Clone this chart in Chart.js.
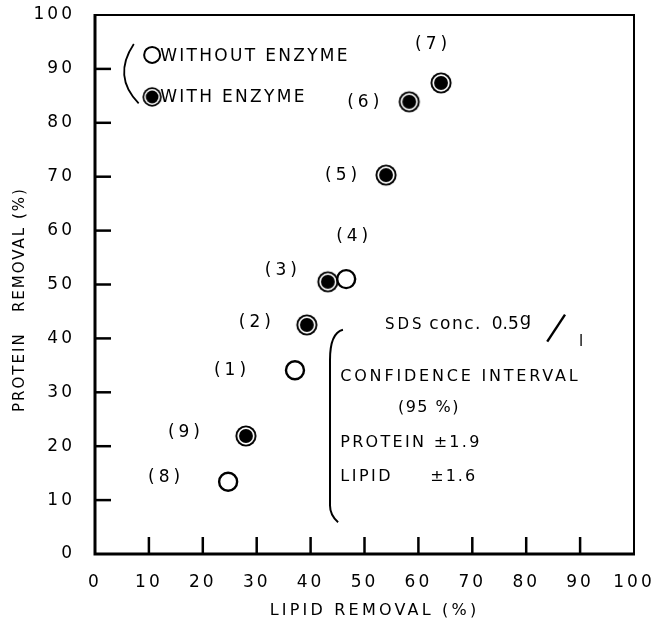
<!DOCTYPE html>
<html><head><meta charset="utf-8">
<script src="https://cdn.jsdelivr.net/npm/chart.js@4.4.0/dist/chart.umd.min.js"></script>
<style>html,body{margin:0;padding:0;background:#fff}#wrap{width:655px;height:625px}</style>
</head><body><div id="wrap"><canvas id="c" width="655" height="625"></canvas></div>
<script>
// ---- data ----
const pointLabels    = ['(1)','(2)','(3)','(4)','(5)','(6)','(7)','(8)','(9)'];
const lipidRemoval   = [37.1, 39.3, 43.2, 46.6, 54.0, 58.3, 64.2, 24.7, 28.0];
const proteinRemoval = [34.1, 42.5, 50.5, 51.0, 70.3, 83.9, 87.4, 13.4, 21.9];
const withEnzyme     = [false, true, true, false, true, true, true, false, true];
const seriesNames    = ['WITHOUT ENZYME', 'WITH ENZYME'];
const xTickValues    = [0,10,20,30,40,50,60,70,80,90,100];
const xTickLabels    = ['0','10','20','30','40','50','60','70','80','90','100'];
const yTickValues    = [0,10,20,30,40,50,60,70,80,90,100];
const yTickLabels    = ['0','10','20','30','40','50','60','70','80','90','100'];
const xTitle = 'LIPID REMOVAL (%)';
const yTitle = 'PROTEIN   REMOVAL (%)';
const noteLines = ['CONFIDENCE INTERVAL', '(95 %)', 'PROTEIN \u00B11.9', 'LIPID', '\u00B11.6'];

// ---- styling / layout (not data) ----
const FONT = '"DejaVu Sans", sans-serif';
const labelOffsets = [[-63,0],[-50,-2],[-45,-11],[8,-43],[-43,0],[-44,1],[-8,-38],[-62,-4],[-60,-3]];

function makeFilledMarker(size){
  const c = document.createElement('canvas');
  c.width = size; c.height = size;
  const g = c.getContext('2d');
  const m = size/2;
  g.fillStyle='#000'; g.beginPath(); g.arc(m,m,size*0.44,0,Math.PI*2); g.fill();
  g.fillStyle='#fff'; g.beginPath(); g.arc(m,m,size*0.36,0,Math.PI*2); g.fill();
  g.fillStyle='#000'; g.beginPath(); g.arc(m,m,size*0.29,0,Math.PI*2); g.fill();
  return c;
}
const filledMarker = makeFilledMarker(24);
const filledMarkerSmall = makeFilledMarker(22);

function pts(flag){
  const out=[];
  for(let i=0;i<lipidRemoval.length;i++) if(withEnzyme[i]===flag) out.push({x:lipidRemoval[i], y:proteinRemoval[i], idx:i});
  return out;
}

function txt(ctx, s, x, y, size, spacing, align, base){
  ctx.save();
  ctx.font = size+'px '+FONT;
  ctx.letterSpacing = spacing+'px';
  ctx.fillStyle='#000';
  ctx.textAlign = align||'left';
  ctx.textBaseline = base||'middle';
  ctx.fillText(s, x, y);
  ctx.restore();
}

const decor = {
  id:'decor',
  beforeDraw(chart){ chart.ctx.letterSpacing='3px'; },
  afterDraw(chart){
    const ctx = chart.ctx;
    const xs = chart.scales.x, ys = chart.scales.y;
    const P = (a,b)=>[xs.getPixelForValue(a), ys.getPixelForValue(b)];
    const L = xs.getPixelForValue(0), R = xs.getPixelForValue(100);
    const B = ys.getPixelForValue(0), T = ys.getPixelForValue(100);
    ctx.save();
    ctx.letterSpacing='0px';
    ctx.strokeStyle='#000'; ctx.lineCap='butt';
    // frame
    ctx.lineWidth=3;
    ctx.beginPath(); ctx.moveTo(L,T-1); ctx.lineTo(L,B); ctx.lineTo(R+1,B); ctx.stroke();
    ctx.lineWidth=2;
    ctx.beginPath(); ctx.moveTo(L,T); ctx.lineTo(R,T); ctx.lineTo(R,B); ctx.stroke();
    // inward ticks
    ctx.lineWidth=2.5;
    yTickValues.forEach(v=>{ if(v>0&&v<100){ const y=ys.getPixelForValue(v); ctx.beginPath(); ctx.moveTo(L,y); ctx.lineTo(L+16,y); ctx.stroke(); }});
    xTickValues.forEach(v=>{ if(v>0&&v<100){ const x=xs.getPixelForValue(v); ctx.beginPath(); ctx.moveTo(x,B); ctx.lineTo(x,B-17); ctx.stroke(); }});

    // point labels
    chart.data.datasets.forEach((ds,di)=>{
      chart.getDatasetMeta(di).data.forEach((el,j)=>{
        const i = ds.data[j].idx;
        const o = labelOffsets[i];
        txt(ctx, pointLabels[i], el.x+o[0], el.y+o[1], 17, 4, 'center');
      });
    });

    // legend
    ctx.lineWidth=2;
    let [lx,ly] = P(10.6, 92.6);
    ctx.beginPath(); ctx.arc(lx,ly,8,0,Math.PI*2); ctx.fillStyle='#fff'; ctx.fill(); ctx.stroke();
    txt(ctx, seriesNames[0], lx+8, ly+2, 17, 2.3, 'left');
    let [fx,fy] = P(10.6, 84.8);
    ctx.drawImage(filledMarkerSmall, fx-11, fy-11);
    txt(ctx, seriesNames[1], fx+8, fy+1, 17, 2.3, 'left');
    // small bracket
    ctx.lineWidth=1.8;
    let a=P(7.2,94.6), c=P(3.2,88.6), b=P(8.1,83.6);
    ctx.beginPath(); ctx.moveTo(a[0],a[1]); ctx.quadraticCurveTo(c[0],c[1],b[0],b[1]); ctx.stroke();

    // big bracket
    ctx.lineWidth=2;
    const b1=P(46.0,41.6), b2=P(43.6,41.0), b3=P(43.6,36.0), b4=P(43.6,9.0), b5=P(43.6,7.2), b6=P(45.1,5.9);
    ctx.beginPath(); ctx.moveTo(b1[0],b1[1]); ctx.quadraticCurveTo(b2[0],b2[1],b3[0],b3[1]);
    ctx.lineTo(b4[0],b4[1]); ctx.quadraticCurveTo(b5[0],b5[1],b6[0],b6[1]); ctx.stroke();

    // SDS note
    let p=P(53.8,42.5); txt(ctx,'SDS',p[0],p[1],15,3,'left');
    p=P(62.0,42.5); txt(ctx,'conc.',p[0],p[1],17,1.5,'left');
    p=P(73.6,42.5); txt(ctx,'0.5',p[0],p[1],17,0,'left');
    p=P(78.8,43.4); txt(ctx,'g',p[0],p[1],18,0,'left');
    const s1=P(83.9,39.4), s2=P(87.2,44.4);
    ctx.lineWidth=2.4; ctx.beginPath(); ctx.moveTo(s1[0],s1[1]); ctx.lineTo(s2[0],s2[1]); ctx.stroke();
    p=P(89.8,39.4); txt(ctx,'l',p[0],p[1],15,0,'left');

    p=P(45.5,32.8); txt(ctx,noteLines[0],p[0],p[1],16,2.8,'left');
    p=P(56.2,27.1); txt(ctx,noteLines[1],p[0],p[1],16,1.5,'left');
    p=P(45.5,20.6); txt(ctx,noteLines[2],p[0],p[1],16,2.3,'left');
    p=P(45.5,14.3); txt(ctx,noteLines[3],p[0],p[1],16,2.5,'left');
    p=P(62.2,14.3); txt(ctx,noteLines[4],p[0],p[1],16,2,'left');

    // axis titles
    txt(ctx, xTitle, (L+R)/2+10, 611, 16, 3.2, 'center');
    ctx.save();
    ctx.translate(20, (T+B)/2+15);
    ctx.rotate(-Math.PI/2);
    txt(ctx, yTitle, 0, 0, 15, 2, 'center');
    ctx.restore();
    ctx.restore();
  }
};

new Chart(document.getElementById('c'), {
  type:'scatter',
  data:{ datasets:[
    { label:seriesNames[0], data:pts(false), pointStyle:'circle', pointRadius:9, pointHoverRadius:9,
      borderColor:'#000', backgroundColor:'#fff', borderWidth:2.4 },
    { label:seriesNames[1], data:pts(true), pointStyle:filledMarker, pointRadius:12, pointHoverRadius:12,
      borderColor:'#000', backgroundColor:'#000' }
  ]},
  options:{
    responsive:false, animation:false, devicePixelRatio:1,
    layout:{ padding:{ top:15, right:21, left:0, bottom:0 } },
    plugins:{ legend:{display:false}, tooltip:{enabled:false} },
    scales:{
      x:{ type:'linear', min:0, max:100,
          afterBuildTicks(s){ s.ticks = xTickValues.map(v=>({value:v})); },
          afterFit(s){ s.height = 71; s.paddingLeft = 0; s.paddingRight = 0; },
          grid:{ display:false, drawTicks:false }, border:{ display:false },
          ticks:{ padding:18, color:'#000', font:{ family:FONT, size:17 }, maxRotation:0, autoSkip:false,
                  callback:(v)=> xTickLabels[xTickValues.indexOf(v)] } },
      y:{ type:'linear', min:0, max:100,
          afterBuildTicks(s){ s.ticks = yTickValues.map(v=>({value:v})); },
          afterFit(s){ s.width = 95; s.paddingTop = 0; s.paddingBottom = 0; },
          grid:{ display:false, drawTicks:false }, border:{ display:false },
          ticks:{ padding:20, color:'#000', font:{ family:FONT, size:17 }, autoSkip:false,
                  callback:(v)=> yTickLabels[yTickValues.indexOf(v)] } }
    }
  },
  plugins:[decor]
});
</script></body></html>
